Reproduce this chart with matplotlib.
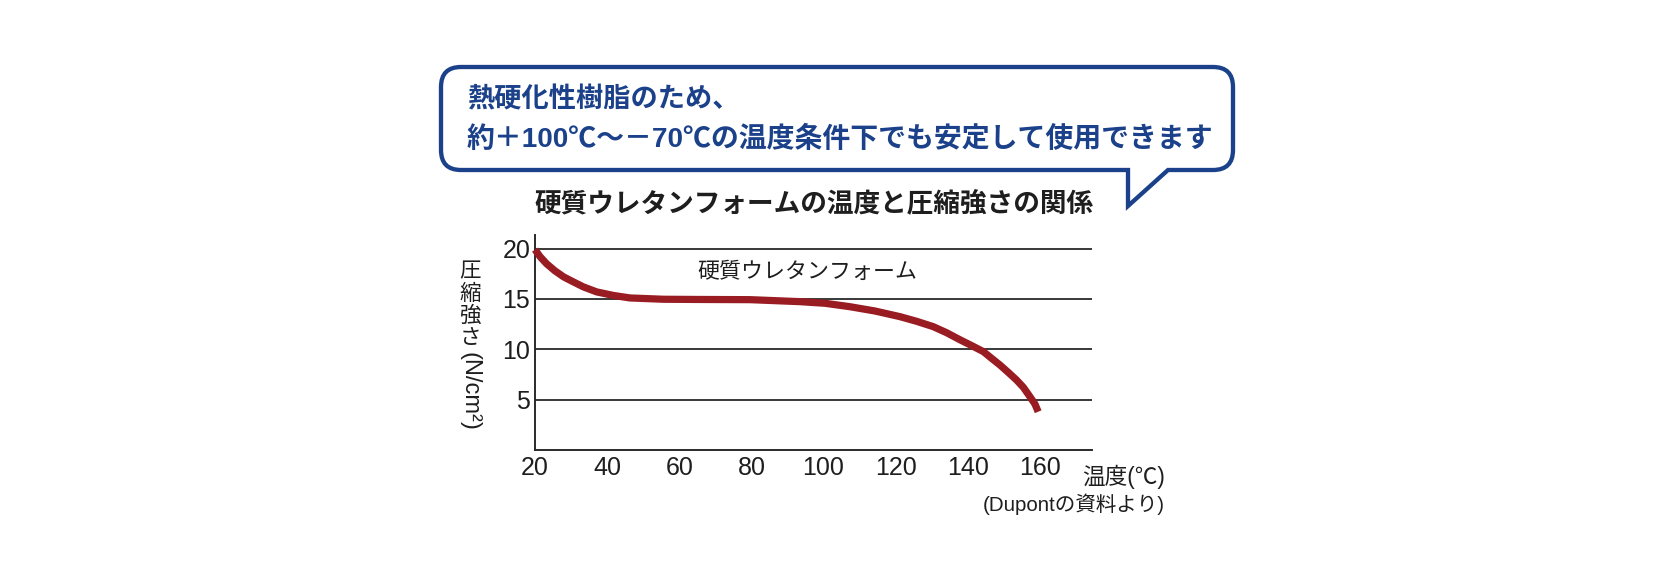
import matplotlib
matplotlib.use("Agg")
import matplotlib.pyplot as plt
from matplotlib.path import Path
from matplotlib.patches import PathPatch
from matplotlib.transforms import Affine2D

# ---------------- data ----------------
temps = [20, 21.4, 23.2, 25.5, 27.9, 30.6, 33.4, 37.1, 41.7, 46.3, 55.6, 64.9,
         79.6, 93.5, 100.4, 107.3, 114.3, 121.2, 125.8, 130.4, 134.1, 137.8,
         141.1, 144.3, 146.6, 148.9, 151.2, 153.5, 155.4, 157.2, 158.6, 159.5]
strength = [19.9, 19.2, 18.5, 17.8, 17.2, 16.7, 16.2, 15.7, 15.35, 15.1, 14.97, 14.95,
            14.93, 14.73, 14.57, 14.23, 13.8, 13.24, 12.78, 12.25, 11.65, 10.95,
            10.36, 9.77, 9.1, 8.44, 7.71, 6.95, 6.22, 5.3, 4.57, 3.8]
x_ticks = [20, 40, 60, 80, 100, 120, 140, 160]
y_ticks = [5, 10, 15, 20]

callout_line1 = "熱硬化性樹脂のため、"
callout_line2 = "約＋100℃～－70℃の温度条件下でも安定して使用できます"
title_text = "硬質ウレタンフォームの温度と圧縮強さの関係"
series_label = "硬質ウレタンフォーム"
ylabel_cjk = ["圧", "縮", "強", "さ"]
ylabel_unit = "(N/cm²)"
xlabel_text = "温度(℃)"
source_text = "(Dupontの資料より)"

# ---------------- style ----------------
W, H = 1676, 576
BLUE = "#1b418a"
DARK = "#1e1e1e"
RED = "#981c22"
CJK = ["Noto Sans CJK JP", "DejaVu Sans"]
LAT = ["Liberation Sans", "Noto Sans CJK JP", "DejaVu Sans"]
plt.rcParams["font.family"] = LAT

fig = plt.figure(figsize=(W / 100, H / 100), dpi=100)
px = Affine2D().scale(1 / W, -1 / H).translate(0, 1) + fig.transFigure

# axes placed in pixel coordinates: left 535, right 1092, bottom 450, top 235
ax_l, ax_r, ax_b, ax_t = 535, 1092, 450, 235
ax = fig.add_axes([ax_l / W, 1 - ax_b / H, (ax_r - ax_l) / W, (ax_b - ax_t) / H])
ax.set_xlim(20, 20 + (ax_r - ax_l) / 3.607)
ax.set_ylim(0, (ax_b - ax_t) / 10.07)

for v in y_ticks:
    ax.axhline(v, color="#383838", lw=1.4, zorder=1)

ax.plot(temps, strength, color=RED, lw=5.2, solid_capstyle="butt",
        solid_joinstyle="round", zorder=3, clip_on=False)

for s in ["top", "right"]:
    ax.spines[s].set_visible(False)
for s in ["left", "bottom"]:
    ax.spines[s].set_color("#2a2a2a")
    ax.spines[s].set_linewidth(1.4)
ax.set_xticks(x_ticks)
ax.set_yticks(y_ticks)
ax.tick_params(axis="both", length=0, labelsize=18, labelcolor=DARK)
ax.tick_params(axis="x", pad=4.5)
ax.tick_params(axis="y", pad=3.5)

ax.text(807, 272, series_label, transform=px, ha="center", va="center",
        fontsize=15.8, color=DARK, family=CJK)

# y label (vertical writing)
for i, ch in enumerate(ylabel_cjk):
    fig.text(470, 271.5 + i * 22.3, ch, transform=px, ha="center", va="center",
             fontsize=15.5, color=DARK, family=CJK)
fig.text(469, 391.5, ylabel_unit, transform=px, ha="center", va="center",
         rotation=-90, fontsize=17, color=DARK, family=LAT)

# x label and source
fig.text(1165, 477, xlabel_text, transform=px, ha="right", va="center",
         fontsize=16.3, color=DARK, family=LAT)
fig.text(1165, 504.5, source_text, transform=px, ha="right", va="center",
         fontsize=14.8, color=DARK, family=LAT)

# title
fig.text(813.5, 204, title_text, transform=px, ha="center", va="center",
         fontsize=19.2, color=DARK, family=CJK, weight="bold")

# callout bubble
L, R, T, B, r = 441, 1233, 67, 170, 20
x1, x2, tip = 1128, 1168, 206
verts = [(L + r, T), (R - r, T), (R, T), (R, T + r), (R, B - r), (R, B), (R - r, B),
         (x2, B), (x1, tip), (x1, B), (L + r, B), (L, B), (L, B - r), (L, T + r),
         (L, T), (L + r, T), (L + r, T)]
codes = [Path.MOVETO, Path.LINETO, Path.CURVE3, Path.CURVE3, Path.LINETO, Path.CURVE3,
         Path.CURVE3, Path.LINETO, Path.LINETO, Path.LINETO, Path.LINETO, Path.CURVE3,
         Path.CURVE3, Path.LINETO, Path.CURVE3, Path.CURVE3, Path.CLOSEPOLY]
bubble = PathPatch(Path(verts, codes), transform=px, facecolor="white",
                   edgecolor=BLUE, lw=3.1, joinstyle="miter")
fig.patches.append(bubble)

fig.text(467, 99.5, callout_line1, transform=px, ha="left", va="center",
         fontsize=19.6, color=BLUE, family=CJK, weight="bold")
fig.text(467, 139, callout_line2, transform=px, ha="left", va="center",
         fontsize=20.1, color=BLUE, family=LAT, weight="bold")

fig.savefig("out.png", dpi=100, facecolor="white")
